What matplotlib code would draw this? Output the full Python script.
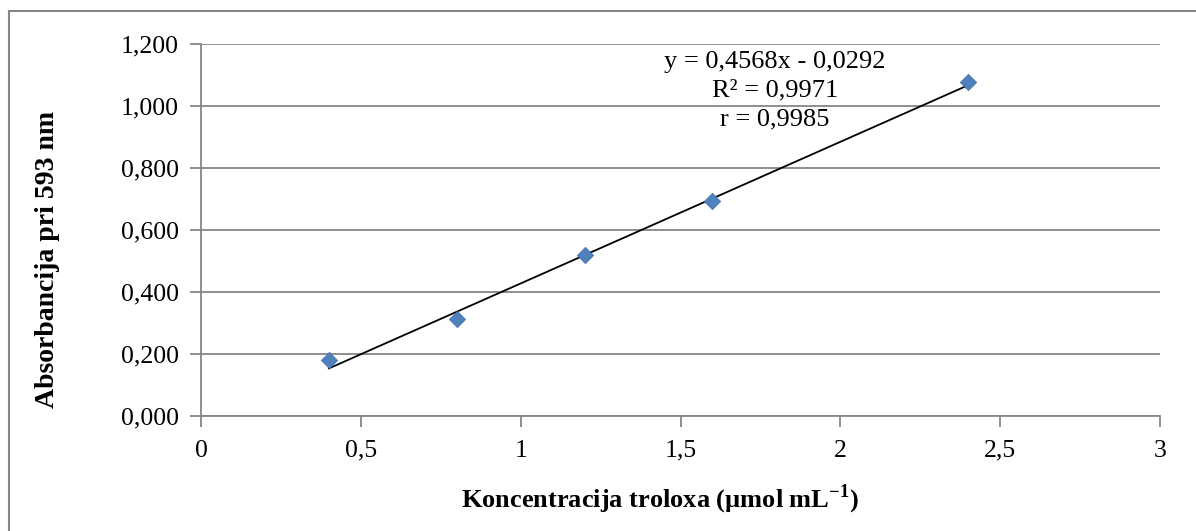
import matplotlib.pyplot as plt
from matplotlib.patches import Rectangle
from matplotlib.ticker import FuncFormatter

plt.rcParams['font.family'] = ['Liberation Serif', 'DejaVu Serif']
plt.rcParams['mathtext.fontset'] = 'custom'
plt.rcParams['mathtext.rm'] = 'Liberation Serif'
plt.rcParams['mathtext.bf'] = 'Liberation Serif:bold'

# measured points
conc = [0.4, 0.8, 1.2, 1.6, 2.4]
absorb = [0.180, 0.312, 0.518, 0.692, 1.078]
slope = 0.4568
intercept = -0.0292
eq_lines = ["y = 0,4568x - 0,0292", "R² = 0,9971", "r = 0,9985"]

fig = plt.figure(figsize=(11.96, 5.31), dpi=100)
ax = fig.add_axes([201 / 1196, 1 - 416 / 531, (1160 - 201) / 1196, (416 - 44) / 531])

# outer chart border (runs off the right and bottom edge)
fig.patches.append(Rectangle((9 / 1196, -0.05), 1.2, 1 - 11 / 531 + 0.05,
                             transform=fig.transFigure, fill=False,
                             edgecolor='#868686', linewidth=1.5))

ax.set_xlim(0, 3)
ax.set_ylim(0, 1.2)
ax.set_xticks([0, 0.5, 1, 1.5, 2, 2.5, 3])
ax.set_yticks([0, 0.2, 0.4, 0.6, 0.8, 1.0, 1.2])
ax.xaxis.set_major_formatter(FuncFormatter(lambda v, p: f"{v:g}".replace('.', ',')))
ax.yaxis.set_major_formatter(FuncFormatter(lambda v, p: f"{v:,.3f}".replace('.', ',')))

ax.grid(axis='y', color='#868686', linewidth=1.3)
ax.set_axisbelow(True)
for side in ['top', 'right']:
    ax.spines[side].set_visible(False)
for side in ['left', 'bottom']:
    ax.spines[side].set_color('#868686')
    ax.spines[side].set_linewidth(1.3)
ax.tick_params(colors='#868686', width=1.3, length=8, labelsize=18.5, labelcolor='black')
ax.tick_params(axis='x', pad=9)
ax.tick_params(axis='y', pad=8)

xs = [conc[0], conc[-1]]
ax.plot(xs, [slope * x + intercept for x in xs], color='black', linewidth=1.3, zorder=3)
ax.scatter(conc, absorb, marker='D', s=70, color='#4f81bd', edgecolor='#3f6fa8',
           linewidth=0.5, zorder=4)

ax.text(1.796, 1.05, "\n".join(eq_lines), ha='center', va='center', fontsize=19,
        linespacing=1.4)

ax.set_xlabel("Koncentracija troloxa (µmol mL$^{\\mathbf{-1}}$)", fontsize=19,
              fontweight='bold')
ax.xaxis.set_label_coords((660 - 201) / 959, (416 - 483) / 372)
ax.set_ylabel("Absorbancija pri 593 nm", fontsize=20, fontweight='bold')
ax.yaxis.set_label_coords((60 - 201) / 959, (416 - 259) / 372)

fig.savefig('out.png', dpi=100)
